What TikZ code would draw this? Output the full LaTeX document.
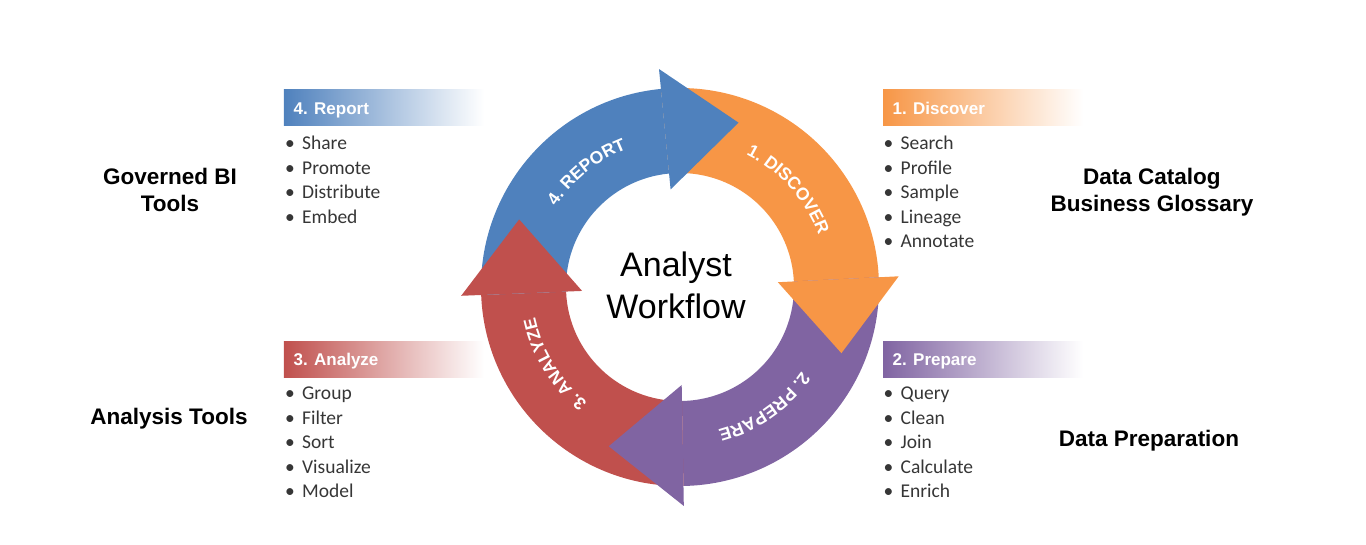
\documentclass[tikz,border=0pt]{standalone}
\usepackage{fontspec}
\setmainfont{Liberation Sans}
\newfontfamily\calibri{Carlito}
\usetikzlibrary{decorations.text}
\definecolor{discover}{HTML}{F79646}
\definecolor{prepare}{HTML}{8064A2}
\definecolor{analyze}{HTML}{C0504D}
\definecolor{report}{HTML}{4F81BD}
\definecolor{itemgray}{HTML}{363636}
\newcommand{\arcfont}{\fontsize{17.5}{17.5}\selectfont\bfseries}

\begin{document}
\begin{tikzpicture}[x=1pt,y=1pt,
  head/.style={white,font=\fontsize{17}{17}\selectfont\bfseries,anchor=base west,inner sep=0pt},
  item/.style={itemgray,font=\calibri\fontsize{19.5}{19.5}\selectfont,anchor=base west,inner sep=0pt},
  tool/.style={font=\fontsize{22.5}{27}\selectfont\bfseries,align=center,anchor=base,inner sep=0pt}]
  \useasboundingbox (-680,-257) rectangle (686,287);
  % arrow bodies first, heads on top
  \foreach \a/\b/\c in {95.5/2.8/discover, 2.8/-89/prepare, -89/-177.7/analyze, 182.3/95.5/report}{
    \fill[\c] (\a:199) arc[start angle=\a, end angle=\b, radius=199]
      -- (\b:114) arc[start angle=\b, end angle=\a, radius=114] -- cycle;
  }
  \foreach \b/\c in {2.8/discover, -89/prepare, -177.7/analyze, 95.5/report}{
    \fill[\c,rotate=\b] (98,0) -- (219,0) -- (158,-74) -- cycle;
  }
  % labels on the ring
  \begin{scope}
    \arcfont
    \foreach \m/\t in {42/1. DISCOVER, -55/2. PREPARE, -148.5/3. ANALYZE, 129/4. REPORT}{
      \path[decorate,decoration={text along path,text align=center,
        text color=white,text/.expanded=\t}]
        (\m+50:148) arc[start angle=\m+50, end angle=\m-50, radius=148];
    }
  \end{scope}
  \node[font=\fontsize{34}{41.6}\selectfont,align=center,anchor=base,inner sep=0pt] (wf) at (-4,-31.3) {Analyst\\Workflow};

  % step headers
  \foreach \x/\y/\c/\t [count=\i] in {-396/161/report/4. Report, 203/161/discover/1. Discover,
      -396/-90/analyze/3. Analyze, 203/-90/prepare/2. Prepare}{
    \shade[left color=\c, middle color=\c, right color=white] (\x,\y) rectangle ++(200,36);
    \node[head] (h\i) at (\x+9.5,\y+11.5) {\t};
  }
  % bullet lists
  \foreach \t [count=\i from 0] in {Share,Promote,Distribute,Embed}
    \node[item] (r\i) at (-395,137.5-24.5*\i) {\makebox[17pt][l]{•}\t};
  \foreach \t [count=\i from 0] in {Search,Profile,Sample,Lineage,Annotate}
    \node[item] (d\i) at (203.5,137.5-24.5*\i) {\makebox[17pt][l]{•}\t};
  \foreach \t [count=\i from 0] in {Group,Filter,Sort,Visualize,Model}
    \node[item] (a\i) at (-395,-112.5-24.6*\i) {\makebox[17pt][l]{•}\t};
  \foreach \t [count=\i from 0] in {Query,Clean,Join,Calculate,Enrich}
    \node[item] (p\i) at (203.5,-112.5-24.6*\i) {\makebox[17pt][l]{•}\t};

  % tools
  \node[tool] (gov) at (-510,76) {Governed BI\\Tools};
  \node[tool] (cat) at (472,75.3) {Data Catalog\\Business Glossary};
  \node[tool] (ana) at (-511,-137.3) {Analysis Tools};
  \node[tool] (prep) at (469,-159.7) {Data Preparation};
\end{tikzpicture}
\end{document}
